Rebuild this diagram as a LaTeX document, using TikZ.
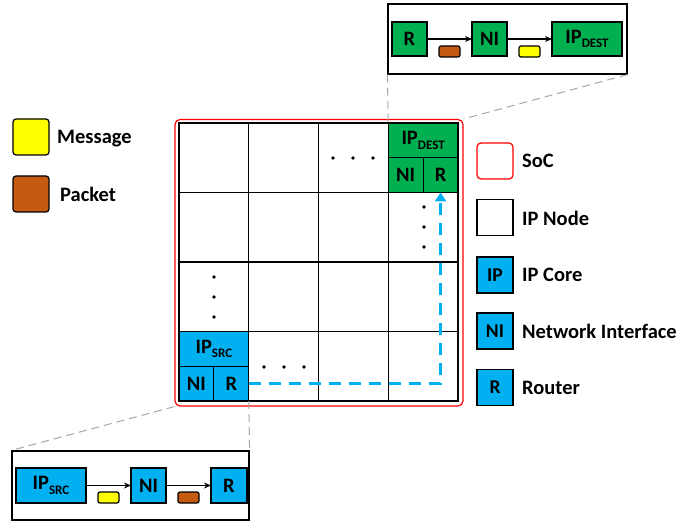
\documentclass[tikz,border=0pt]{standalone}
\usepackage{fontspec}
\setmainfont{Carlito}
\usetikzlibrary{arrows.meta}
\definecolor{ipblue}{RGB}{0,176,240}
\definecolor{ipgreen}{RGB}{0,176,80}
\definecolor{msgyellow}{RGB}{255,255,0}
\definecolor{pktbrown}{RGB}{197,90,17}
\definecolor{socred}{RGB}{255,0,0}
\definecolor{zoomgray}{RGB}{166,166,166}
\newcommand{\ipsub}[1]{\raisebox{-4.5pt}{\fontsize{13}{13}\selectfont #1}}
\tikzset{
  cell/.style={draw, line width=1.2pt, minimum width=69.75pt, minimum height=69.5pt, inner sep=0pt, outer sep=0pt},
  unit/.style={draw, line width=1.2pt, inner sep=0pt, outer sep=0pt, font=\fontsize{20.5}{24}\selectfont\bfseries},
  flit/.style={draw, line width=1.2pt, rounded corners=2pt, minimum width=21pt, minimum height=11pt, inner sep=0pt},
  legbox/.style={draw, line width=1.2pt, minimum size=36pt, inner sep=0pt, font=\fontsize{19.5}{22}\selectfont\bfseries},
  legtext/.style={anchor=base west, inner sep=0pt, font=\fontsize{20.5}{24}\selectfont\bfseries},
  zoomline/.style={draw=zoomgray, line width=1pt, dash pattern=on 8pt off 5pt},
  link/.style={line width=1.2pt, -{Stealth[length=7pt,width=6pt]}},
  route/.style={draw=ipblue, line width=3.2pt, dash pattern=on 12pt off 8pt, -{Triangle[length=9pt,width=11pt]}}
}
\begin{document}
\begin{tikzpicture}[x=1pt,y=-1pt]
    \useasboundingbox (0,0) rectangle (699,521);
    % SoC and mesh
    \node[draw=socred, line width=1.2pt, rounded corners=5pt, minimum width=288pt, minimum height=286.5pt, inner sep=0pt] (soc) at (319,262.75) {};
    \foreach \r in {1,...,4}
        \foreach \c in {1,...,4}
            \node[cell] (cell-\r-\c) at ({179+69.75*(\c-0.5)},{123+69.5*(\r-0.5)}) {};
    % destination node
    \node[unit, fill=ipgreen, anchor=north west, minimum width=69.75pt, minimum height=34.75pt] (dstip) at (cell-1-4.north west) {IP\ipsub{DEST}};
    \node[unit, fill=ipgreen, anchor=north west, minimum width=34.875pt, minimum height=34.75pt] (dstni) at (dstip.south west) {NI};
    \node[unit, fill=ipgreen, anchor=north west, minimum width=34.875pt, minimum height=34.75pt] (dstr) at (dstni.north east) {R};
    % source node
    \node[unit, fill=ipblue, anchor=north west, minimum width=69.75pt, minimum height=34.75pt] (srcip) at (cell-4-1.north west) {IP\ipsub{SRC}};
    \node[unit, fill=ipblue, anchor=north west, minimum width=34.875pt, minimum height=34.75pt] (srcni) at (srcip.south west) {NI};
    \node[unit, fill=ipblue, anchor=north west, minimum width=34.875pt, minimum height=34.75pt] (srcr) at (srcni.north east) {R};
    \draw[route] (srcr.east) -| (dstr.south);
    % dots
    \foreach \x in {333,353,373} \fill (\x,158) circle[radius=1.8pt];
    \foreach \x in {264,284,304} \fill (\x,367) circle[radius=1.8pt];
    \foreach \y in {207,227,247} \fill (424,\y) circle[radius=1.8pt];
    \foreach \y in {277,297,317} \fill (214,\y) circle[radius=1.8pt];
    % zoom at destination
    \node[draw, line width=1.2pt, minimum width=239pt, minimum height=70pt, inner sep=0pt] (topzoom) at (507.5,39) {};
    \node[unit, fill=ipgreen, minimum width=35pt, minimum height=34pt] (tr) at (409.5,39) {R};
    \node[unit, fill=ipgreen, minimum width=35pt, minimum height=34pt] (tni) at (489.5,39) {NI};
    \node[unit, fill=ipgreen, minimum width=70pt, minimum height=34pt] (tip) at (587,39) {IP\ipsub{DEST}};
    \draw[link] (tr.east) -- (tni.west);
    \draw[link] (tni.east) -- (tip.west);
    \node[flit, fill=pktbrown] (tpkt) at (449.5,51.5) {};
    \node[flit, fill=msgyellow] (tmsg) at (529.5,51.5) {};
    % zoom at source
    \node[draw, line width=1.2pt, minimum width=237pt, minimum height=69pt, inner sep=0pt] (botzoom) at (130.5,485.5) {};
    \node[unit, fill=ipblue, minimum width=70pt, minimum height=35pt] (bip) at (51,485.5) {IP\ipsub{SRC}};
    \node[unit, fill=ipblue, minimum width=35pt, minimum height=35pt] (bni) at (148.5,485.5) {NI};
    \node[unit, fill=ipblue, minimum width=36pt, minimum height=35pt] (br) at (229,485.5) {R};
    \draw[link] (bip.east) -- (bni.west);
    \draw[link] (bni.east) -- (br.west);
    \node[flit, fill=msgyellow] (bmsg) at (108.5,497.5) {};
    \node[flit, fill=pktbrown] (bpkt) at (188.5,497.5) {};
    % zoom lines
    \draw[zoomline] (topzoom.south west) -- (dstip.north west);
    \draw[zoomline] (topzoom.south east) -- (soc.north east);
    \draw[zoomline] (soc.south west) -- (botzoom.north west);
    \draw[zoomline] (cell-4-2.south west) -- (botzoom.north east);
    % legend
    \node[legbox, fill=msgyellow, rounded corners=3pt] (legmsg) at (31,137) {};
    \node[legtext] (legmsgtxt) at (57,144) {Message};
    \node[legbox, fill=pktbrown, rounded corners=3pt] (legpkt) at (31,194) {};
    \node[legtext] (legpkttxt) at (60,202) {Packet};
    \node[legbox, draw=socred, rounded corners=4pt] (legsoc) at (495,161) {};
    \node[legtext] (legsoctxt) at (522,168) {SoC};
    \node[legbox] (legnode) at (495,217.5) {};
    \node[legtext] (legnodetxt) at (522,226) {IP Node};
    \node[legbox, fill=ipblue] (legip) at (495,275) {IP};
    \node[legtext] (legiptxt) at (522,282) {IP Core};
    \node[legbox, fill=ipblue] (legni) at (495,331) {NI};
    \node[legtext] (legnitxt) at (522,338) {Network Interface};
    \node[legbox, fill=ipblue] (legr) at (495,387.5) {R};
    \node[legtext] (legrtxt) at (522,395) {Router};
\end{tikzpicture}
\end{document}
